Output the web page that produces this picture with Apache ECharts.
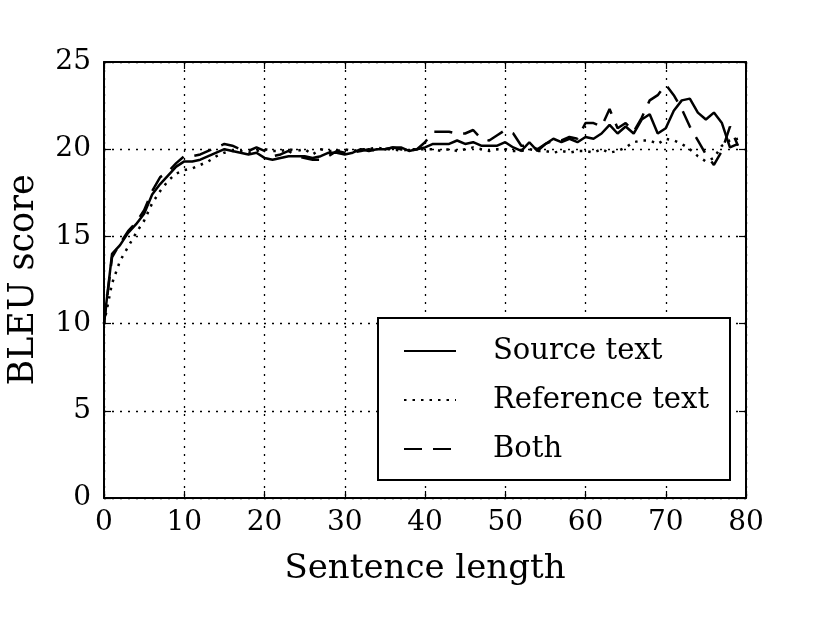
<!DOCTYPE html>
<html>
<head>
<meta charset="utf-8">
<script src="https://cdn.jsdelivr.net/npm/echarts@6/dist/echarts.min.js"></script>
<style>
  html, body { margin: 0; padding: 0; background: #fff; }
  #main { width: 830px; height: 623px; }
</style>
</head>
<body>
<div id="main"></div>
<script>
// sentence lengths 0..79
var lengths = []
for (var i = 0; i < 80; i++) lengths.push(i)

var sourceText = [10.0, 14.0, 14.5, 15.2, 15.7, 16.3, 17.4, 18.0, 18.5, 19.0,
  19.3, 19.3, 19.4, 19.6, 19.8, 20.0, 19.9, 19.8, 19.7, 19.8,
  19.5, 19.4, 19.5, 19.6, 19.6, 19.6, 19.5, 19.6, 19.8, 19.8,
  19.7, 19.8, 20.0, 19.9, 20.0, 20.0, 20.1, 20.1, 19.9, 20.0,
  20.1, 20.3, 20.3, 20.3, 20.5, 20.3, 20.4, 20.2, 20.2, 20.2,
  20.4, 20.1, 19.9, 20.4, 19.9, 20.3, 20.6, 20.4, 20.6, 20.4,
  20.7, 20.6, 20.9, 21.4, 20.9, 21.3, 20.9, 21.7, 22.0, 20.9,
  21.2, 22.2, 22.8, 22.9, 22.1, 21.7, 22.1, 21.5, 20.1, 20.3]

var referenceText = [10.0, 12.3, 13.6, 14.4, 15.2, 15.9, 16.9, 17.6, 18.2, 18.6,
  18.8, 18.9, 19.1, 19.3, 19.6, 19.8, 19.9, 19.9, 19.8, 19.9,
  20.0, 19.9, 19.9, 20.0, 19.9, 20.0, 19.7, 20.0, 19.9, 19.9,
  20.0, 19.9, 20.0, 20.0, 20.1, 20.0, 20.0, 19.9, 20.0, 20.0,
  20.0, 20.0, 19.9, 20.0, 19.9, 20.0, 20.1, 20.0, 19.9, 20.0,
  20.0, 19.9, 19.9, 20.0, 19.9, 19.9, 19.8, 19.9, 19.8, 19.9,
  19.9, 19.8, 20.0, 19.8, 19.9, 20.1, 20.4, 20.5, 20.5, 20.3,
  20.6, 20.5, 20.3, 20.0, 19.6, 19.3, 19.5, 20.2, 20.5, 20.6]

var both = [10.0, 13.8, 14.6, 15.3, 15.8, 16.5, 17.6, 18.4, 18.7, 19.2,
  19.6, 19.6, 19.7, 19.9, 20.1, 20.3, 20.2, 20.0, 19.9, 20.1,
  19.9, 19.6, 19.7, 19.9, 19.6, 19.5, 19.4, 19.4, 19.6, 19.9,
  19.8, 19.8, 19.9, 20.0, 19.9, 20.0, 20.1, 20.0, 19.9, 20.0,
  20.4, 21.0, 21.0, 21.0, 20.9, 20.9, 21.1, 20.6, 20.5, 20.8,
  21.1, 20.9, 20.2, 20.2, 20.0, 20.3, 20.5, 20.5, 20.7, 20.6,
  21.5, 21.5, 21.3, 22.3, 21.2, 21.5, 21.0, 21.8, 22.8, 23.1,
  23.7, 23.1, 22.3, 21.3, 20.5, 19.7, 19.1, 19.9, 21.3, 20.2]

function pairs(ys) {
  return lengths.map(function (x, i) { return [x, ys[i]] })
}

var font = 'DejaVu Serif'
var myChart = echarts.init(document.getElementById('main'))

var gridDotted = { show: true, lineStyle: { color: '#000', type: [2, 6], width: 1.3 } }
var inTick = { show: true, inside: true, length: 7, lineStyle: { color: '#000', width: 1.2 } }
var frame = { show: true, onZero: false, lineStyle: { color: '#000', width: 2 } }

let option = {
  backgroundColor: '#fff',
  animation: false,
  grid: { left: 104, right: 84, top: 62, bottom: 125, outerBoundsMode: 'none' },
  xAxis: [{
    type: 'value', min: 0, max: 80, interval: 10,
    name: 'Sentence length', nameLocation: 'middle', nameGap: 54,
    nameTextStyle: { fontFamily: font, fontSize: 34, color: '#000' },
    axisLine: frame, axisTick: inTick, splitLine: gridDotted,
    axisLabel: { fontFamily: font, fontSize: 28, color: '#000', margin: 11 }
  }, {
    type: 'value', min: 0, max: 80, interval: 10, position: 'top',
    axisLine: frame, axisTick: inTick, splitLine: { show: false },
    axisLabel: { show: false }
  }],
  yAxis: [{
    type: 'value', min: 0, max: 25, interval: 5,
    name: 'BLEU score', nameLocation: 'middle', nameGap: 63,
    nameTextStyle: { fontFamily: font, fontSize: 35, color: '#000' },
    axisLine: frame, axisTick: inTick, splitLine: gridDotted,
    axisLabel: { fontFamily: font, fontSize: 28, color: '#000', margin: 13 }
  }, {
    type: 'value', min: 0, max: 25, interval: 5, position: 'right',
    axisLine: frame, axisTick: inTick, splitLine: { show: false },
    axisLabel: { show: false }
  }],
  legend: {
    left: 378, top: 318, orient: 'vertical',
    padding: [16, 17, 14, 25],
    borderColor: '#000', borderWidth: 2, backgroundColor: '#fff',
    itemWidth: 52, itemHeight: 14, itemGap: 15,
    itemStyle: { opacity: 0 },
    textStyle: {
      fontFamily: font, fontSize: 29, color: '#000',
      lineHeight: 34, width: 220, padding: [0, 0, 0, 32]
    },
    data: ['Source text', 'Reference text', 'Both']
  },
  series: [{
    name: 'Source text', type: 'line', symbol: 'none',
    data: pairs(sourceText),
    lineStyle: { color: '#000', width: 2.5, type: 'solid' },
    itemStyle: { color: '#000' }
  }, {
    name: 'Reference text', type: 'line', symbol: 'none',
    data: pairs(referenceText),
    lineStyle: { color: '#000', width: 2.5, type: [2.5, 6] },
    itemStyle: { color: '#000' }
  }, {
    name: 'Both', type: 'line', symbol: 'none',
    data: pairs(both),
    lineStyle: { color: '#000', width: 2.5, type: [18, 11] },
    itemStyle: { color: '#000' }
  }]
}
myChart.setOption(option)
</script>
</body>
</html>
